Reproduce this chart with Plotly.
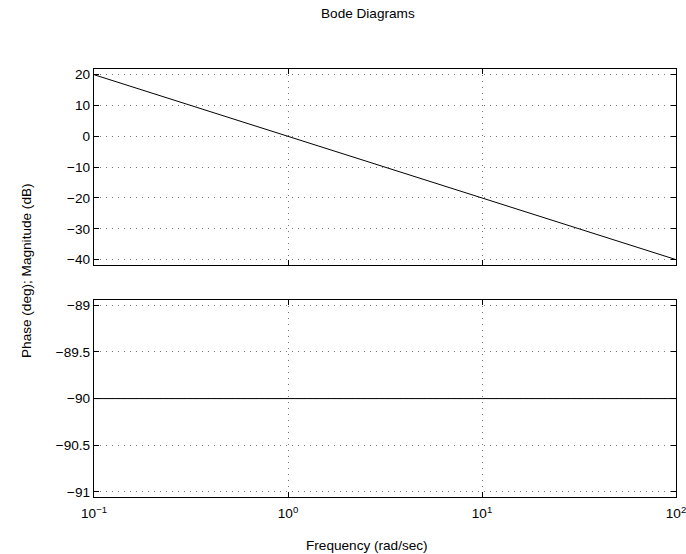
import plotly.graph_objects as go
from plotly.subplots import make_subplots

freq = [0.1, 1, 10, 100]
magnitude_db = [20, 0, -20, -40]
phase_deg = [-90, -90, -90, -90]

x_tickvals = [0.1, 1, 10, 100]
x_ticktext = ["10<sup>−1</sup>", "10<sup>0</sup>", "10<sup>1</sup>", "10<sup>2</sup>"]
mag_ticks = [20, 10, 0, -10, -20, -30, -40]
phase_ticks = [-89, -89.5, -90, -90.5, -91]
phase_ticktext = ["−89", "−89.5", "−90", "−90.5", "−91"]

W, H = 686, 554
ml, mr, mt, mb = 94, 10, 69, 57
pw = W - ml - mr
ph = H - mt - mb

fig = make_subplots(rows=2, cols=1, shared_xaxes=False)
fig.add_trace(go.Scatter(x=freq, y=magnitude_db, mode="lines",
                         line=dict(color="black", width=1), showlegend=False), row=1, col=1)
fig.add_trace(go.Scatter(x=freq, y=phase_deg, mode="lines",
                         line=dict(color="black", width=1), showlegend=False), row=2, col=1)

font = dict(family="Liberation Sans, Arial, Helvetica, sans-serif", size=13.6, color="black")

axis_common = dict(showline=True, linecolor="black", linewidth=1.3, mirror="ticks",
                   ticks="inside", ticklen=5, tickcolor="black",
                   showgrid=True, gridcolor="#777777", griddash="1px,5px", gridwidth=1,
                   zeroline=False, tickfont=font, automargin=False,
                   ticklabeloverflow="allow")

fig.update_xaxes(type="log", range=[-1, 2], tickvals=x_tickvals, ticktext=x_ticktext,
                 **axis_common)
fig.update_xaxes(showticklabels=False, row=1, col=1)
fig.update_xaxes(ticklabelstandoff=4, row=2, col=1)

fig.update_yaxes(range=[-41.75, 21.85], tickvals=mag_ticks, **axis_common, row=1, col=1)
fig.update_yaxes(range=[-91.055, -88.943], tickvals=phase_ticks, ticktext=phase_ticktext,
                 **axis_common, row=2, col=1)


def px_x(x):
    return (x - ml) / pw


def px_y(y):
    return (H - mb - y) / ph


fig.update_layout(
    width=W, height=H,
    margin=dict(l=ml, r=mr, t=mt, b=mb),
    plot_bgcolor="white", paper_bgcolor="white",
    font=font,
    xaxis=dict(domain=[0, 1]),
    xaxis2=dict(domain=[0, 1]),
    yaxis=dict(domain=[px_y(265), 1]),
    yaxis2=dict(domain=[0, px_y(300)]),
    annotations=[
        dict(text="Bode Diagrams", xref="paper", yref="paper",
             x=px_x(368), y=px_y(14), xanchor="center", yanchor="middle",
             showarrow=False, font=font),
        dict(text="Frequency (rad/sec)", xref="paper", yref="paper",
             x=px_x(367), y=px_y(545), xanchor="center", yanchor="middle",
             showarrow=False, font=font),
        dict(text="Phase (deg); Magnitude (dB)", xref="paper", yref="paper",
             x=px_x(26), y=px_y(271), xanchor="center", yanchor="middle",
             textangle=-90, showarrow=False, font=font),
    ],
)

fig.write_html("out.html")
